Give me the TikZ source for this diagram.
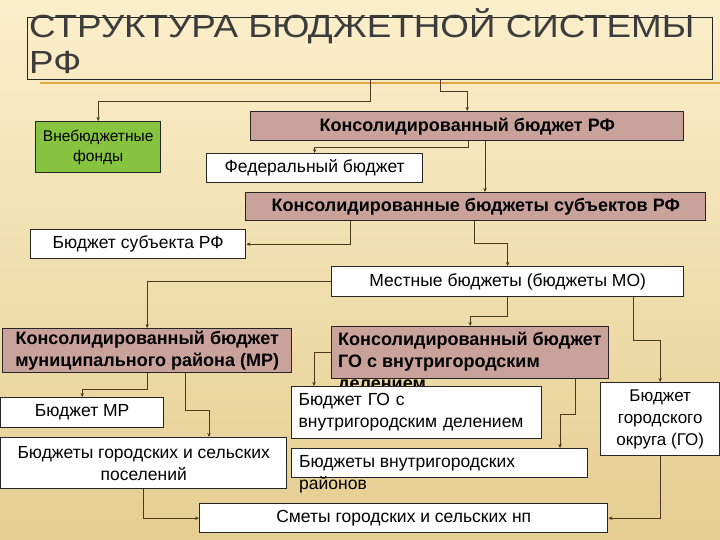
\documentclass[tikz,border=0pt]{standalone}
\usepackage{fontspec}
\setmainfont{Liberation Sans}
\newfontfamily\titlefont{Liberation Sans}[FakeStretch=1.15]
\usetikzlibrary{arrows.meta}

\definecolor{bgtop}{HTML}{FBEFCB}
\definecolor{bgbot}{HTML}{E6CE92}
\definecolor{rosy}{HTML}{C9A29B}
\definecolor{grn}{HTML}{86C33E}
\definecolor{lnk}{HTML}{4A3A20}
\definecolor{gold}{HTML}{E3A642}
\definecolor{ttl}{HTML}{3C3C3C}

\tikzset{
  blk/.style={draw=black!85, line width=1.4pt, anchor=north west, inner sep=2pt,
    align=center, font=\fontsize{17.5}{22}\selectfont},
  wbox/.style={blk, fill=white},
  rbox/.style={blk, fill=rosy, font=\bfseries\fontsize{18}{22}\selectfont},
  gbox/.style={blk, fill=grn, font=\fontsize{15.5}{20}\selectfont},
  conn/.style={draw=lnk, line width=0.7pt, -{Stealth[length=4pt,width=3.5pt]}},
}

\begin{document}
\begin{tikzpicture}[x=1pt,y=-1pt]
\useasboundingbox (0,0) rectangle (720,540);
\shade[top color=bgtop, bottom color=bgbot] (0,0) rectangle (720,540);
\draw[gold, line width=1.2pt] (40,83) -- (720,83);

% title
\node[draw=black!85, line width=1.4pt, anchor=north west, minimum width=685pt,
  minimum height=62pt, inner sep=0pt] (title) at (27,17) {};
\node[anchor=north west, inner sep=0pt, align=left, text=ttl,
  font=\titlefont\fontsize{32}{36}\selectfont] (ttltxt) at (29,8)
  {СТРУКТУРА БЮДЖЕТНОЙ СИСТЕМЫ\\РФ};

% upper level
\node[gbox, minimum width=125pt, minimum height=51pt] (vnb) at (35,121) {Внебюджетные\\фонды};
\node[rbox, minimum width=433pt, minimum height=29pt] (krf) at (250,111) {Консолидированный бюджет РФ};
\node[wbox, minimum width=216pt, minimum height=29pt] (fed) at (206,153) {Федеральный бюджет};
\node[rbox, minimum width=460pt, minimum height=28pt] (ksub) at (245,192) {Консолидированные бюджеты субъектов РФ};
\node[wbox, minimum width=215pt, minimum height=29pt] (sub) at (30,229) {Бюджет субъекта РФ};
\node[wbox, minimum width=352pt, minimum height=30pt] (mest) at (331,266) {Местные бюджеты (бюджеты МО)};

% municipal level
\node[rbox, minimum width=289pt, minimum height=44pt] (kmr) at (2,328) {Консолидированный бюджет\\муниципального района (МР)};
\node[blk, fill=rosy, minimum width=277pt, minimum height=52pt] (kgob) at (331,326) {};
\node[anchor=north west, inner sep=0pt, align=left,
  font=\bfseries\fontsize{18}{22}\selectfont] (kgo) at (338,332)
  {Консолидированный бюджет\\ГО с внутригородским\\делением};
\node[wbox, minimum width=163pt, minimum height=30pt] (bmr) at (0,397) {Бюджет МР};
\node[wbox, minimum width=286pt, minimum height=51pt] (pos) at (0,437) {Бюджеты городских и сельских\\поселений};
\node[wbox, minimum width=250pt, minimum height=52pt, text width=236pt, inner xsep=7pt,
  align=left] (bgo) at (291,386) {Бюджет ГО с\\внутригородским делением};
\node[wbox, minimum width=296pt, minimum height=29pt] (raionb) at (291,448) {};
\node[anchor=north west, inner sep=0pt, align=left,
  font=\fontsize{17.5}{22}\selectfont] (raion) at (299,455)
  {Бюджеты внутригородских\\районов};
\node[wbox, minimum width=119pt, minimum height=73pt, font=\fontsize{17}{22}\selectfont] (gok) at (600,382) {Бюджет\\городского\\округа (ГО)};
\node[wbox, minimum width=408pt, minimum height=29pt] (smet) at (199,503) {Сметы городских и сельских нп};

% connectors
\draw[conn] ([xshift=343pt]title.south west) -- ++(0,21) -| (vnb.north);
\draw[conn] ([xshift=413pt]title.south west) -- ++(0,11) -| (krf.north);
\draw[conn] ([xshift=218pt]krf.south west) -- ++(0,6) -| (fed.north);
\draw[conn] ([xshift=235pt]krf.south west) coordinate (k1) -- (k1 |- ksub.north);
\draw[conn] ([xshift=105pt]ksub.south west) |- (sub.east);
\draw[conn] ([xshift=229pt]ksub.south west) -- ++(0,22) -| (mest.north);
\draw[conn] (mest.west) -| (kmr.north);
\draw[conn] ([xshift=176pt]mest.south west) -- ++(0,19) -| (kgob.north);
\draw[conn] ([xshift=302pt]mest.south west) -- ++(0,43) -| (gok.north);
\draw[conn] (kgob.west) -| ([xshift=23pt]bgo.north west);
\draw[conn] ([xshift=244pt]kgob.south west) -- ++(0,35) -| ([xshift=269pt]raionb.north west);
\draw[conn] (kmr.south) -- ++(0,16) -| (bmr.north);
\draw[conn] ([xshift=183pt]kmr.south west) -- ++(0,37) -| ([xshift=209pt]pos.north west);
\draw[conn] (pos.south) |- (smet.west);
\draw[conn] (gok.south) |- (smet.east);
\end{tikzpicture}
\end{document}
